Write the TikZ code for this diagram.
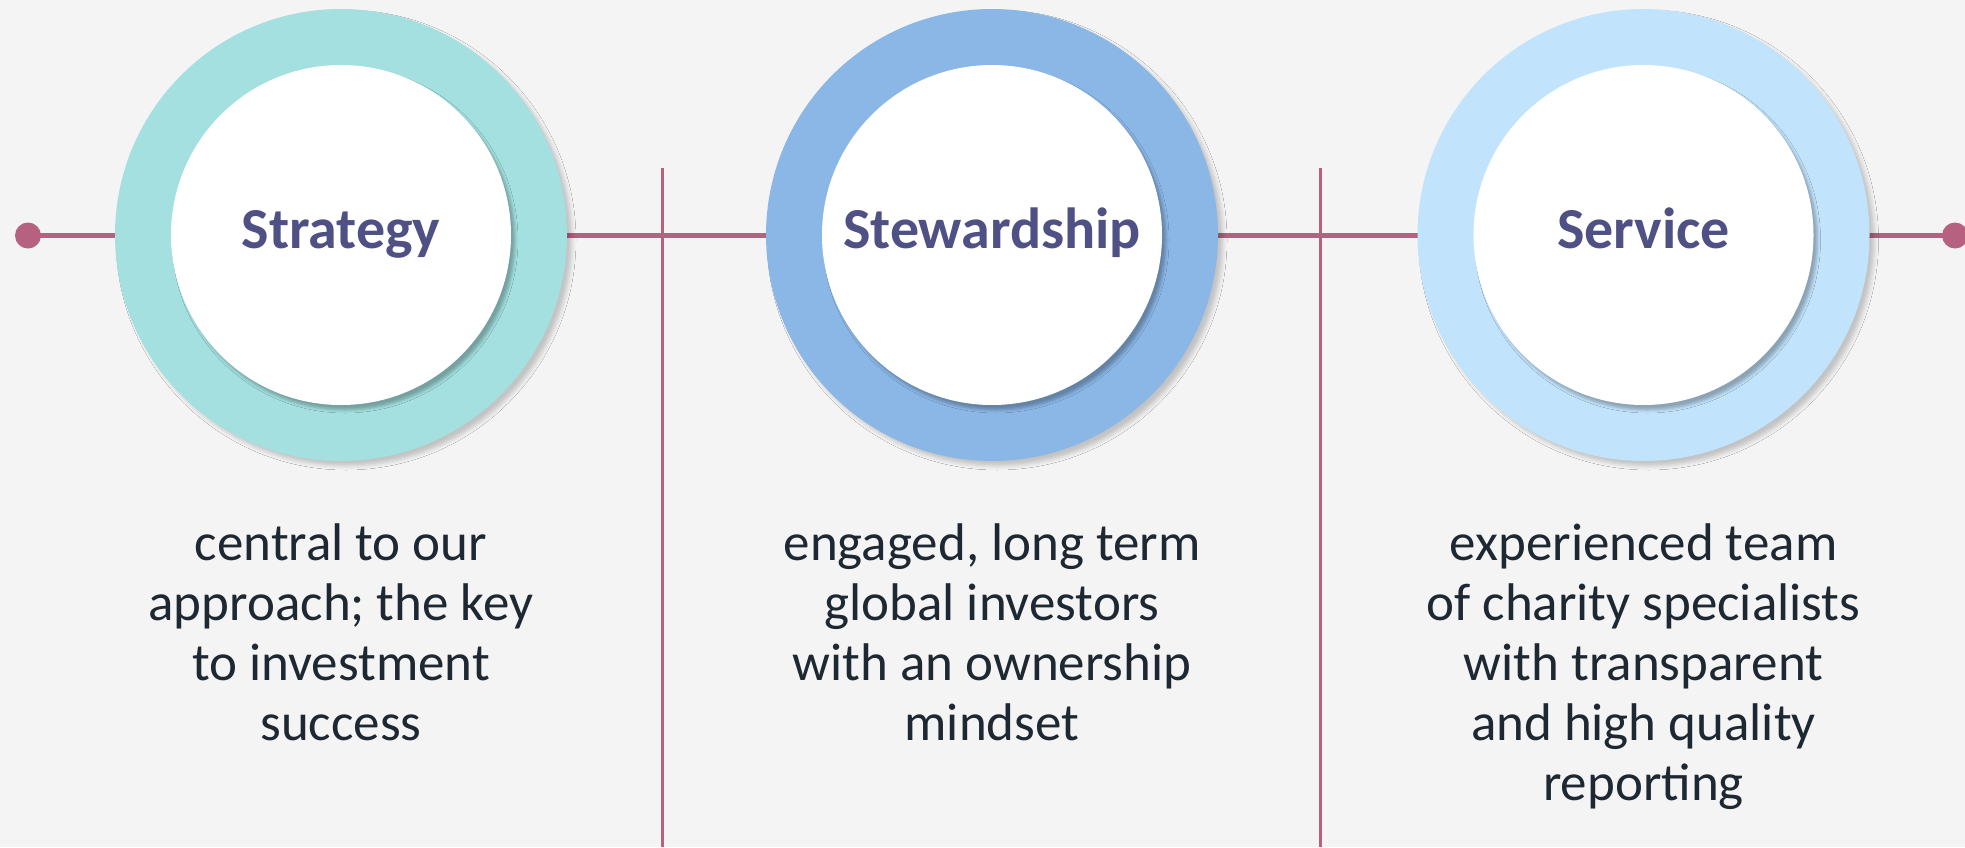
\documentclass[tikz,border=0pt]{standalone}
\usepackage{fontspec}
\setmainfont{Carlito}
\usetikzlibrary{shadows.blur}
\definecolor{bgc}{HTML}{F4F4F4}
\definecolor{linkc}{HTML}{B5617F}
\definecolor{tealring}{HTML}{A3E0DF}
\definecolor{bluering}{HTML}{8BB7E7}
\definecolor{skyring}{HTML}{C2E3FC}
\definecolor{titlec}{HTML}{4F5185}
\definecolor{bodyc}{HTML}{1E2833}
\begin{document}
\begin{tikzpicture}[x=1pt,y=-1pt,
  ring/.style={circle, minimum size=452pt, inner sep=0pt, fill=#1,
    blur shadow={shadow xshift=5pt, shadow yshift=-5pt, shadow blur radius=4pt, shadow opacity=20}},
  hub/.style={circle, minimum size=340pt, inner sep=0pt, fill=white,
    blur shadow={shadow xshift=4pt, shadow yshift=-5pt, shadow blur radius=3pt, shadow opacity=28}},
  enddot/.style={circle, minimum size=26pt, inner sep=0pt, fill=linkc},
  link/.style={draw=linkc, line width=5.7pt},
  divider/.style={draw=linkc, line width=2.7pt},
  title/.style={font=\fontsize{58}{70}\selectfont\bfseries, text=titlec, anchor=base, inner sep=0pt},
  body/.style={font=\fontsize{53}{60}\selectfont, text=bodyc, align=center, anchor=base, inner sep=0pt}]
  % canvas
  \fill[bgc] (0,0) rectangle (1965,847);
  \useasboundingbox (0,0) rectangle (1965,847);

  % timeline with end dots
  \node[enddot] (dl) at (28,235.5) {};
  \node[enddot] (dr) at (1955,235.5) {};
  \draw[link] (dl.center) -- (dr.center);

  % column dividers
  \coordinate (v1t) at (662.7,167.7);
  \coordinate (v1b) at (662.7,847);
  \coordinate (v2t) at (1320.7,167.7);
  \coordinate (v2b) at (1320.7,847);
  \draw[divider] (v1t) -- (v1b);
  \draw[divider] (v2t) -- (v2b);

  % rings
  \node[ring=tealring] (r1) at (341,235) {};
  \node[ring=bluering] (r2) at (992,235) {};
  \node[ring=skyring]  (r3) at (1643.5,235) {};
  \node[hub] (h1) at (r1) {};
  \node[hub] (h2) at (r2) {};
  \node[hub] (h3) at (r3) {};

  % titles
  \node[title] (t1) at (341,248) {Strategy};
  \node[title] (t2) at (992,248) {Stewardship};
  \node[title] (t3) at (1643.5,248) {Service};

  % descriptions (anchored at the baseline of the last line)
  \node[body] (b1) at (341,740) {central to our\\approach; the key\\to investment\\success};
  \node[body] (b2) at (992,740) {engaged, long term\\global investors\\with an ownership\\mindset};
  \node[body] (b3) at (1643.5,800) {experienced team\\of charity specialists\\with transparent\\and high quality\\reporting};
\end{tikzpicture}
\end{document}
